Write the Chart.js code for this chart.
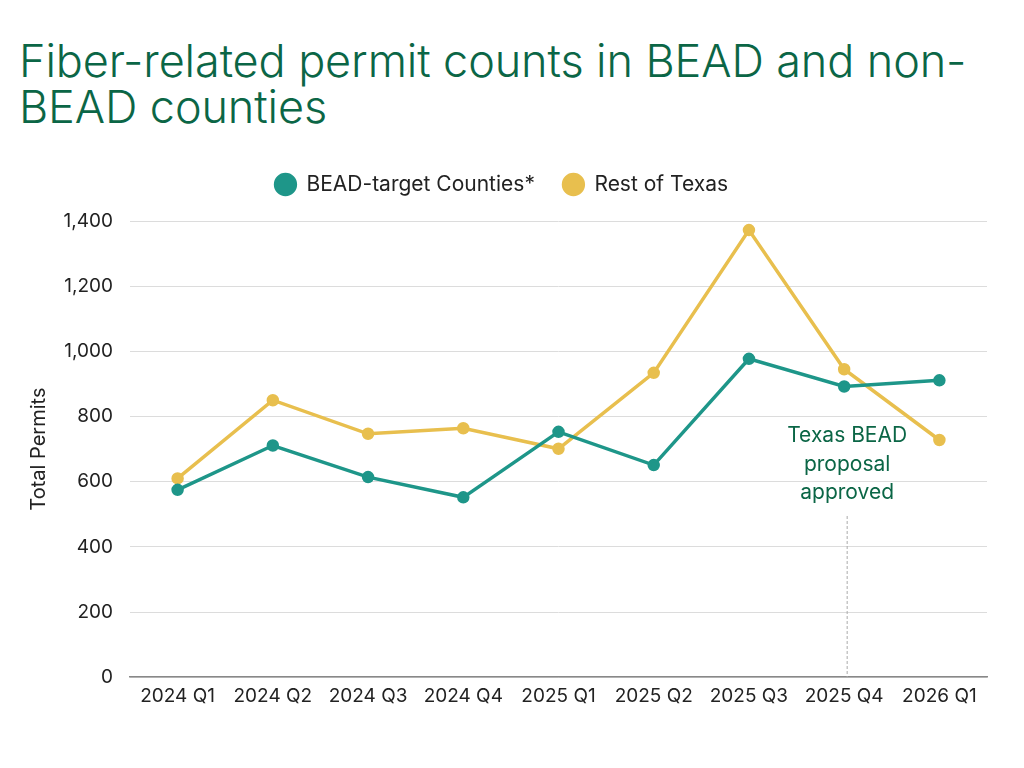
<!DOCTYPE html>
<html>
<head>
<meta charset="utf-8">
<script src="https://cdn.jsdelivr.net/npm/chart.js@4"></script>
<style>
  html, body { margin: 0; padding: 0; background: #fff; }
  #wrap { position: relative; width: 1024px; height: 768px; }
  #title { position: absolute; left: 19px; top: 38px; width: 1000px;
    font-family: Inter, "Noto Sans", sans-serif; font-size: 45px; line-height: 46px;
    color: #0b6646; letter-spacing: -0.1px; font-weight: 300; margin: 0; }
  canvas { position: absolute; left: 0; top: 0; }
</style>
</head>
<body>
<div id="wrap">
  <h1 id="title">Fiber-related permit counts in BEAD and non-<br>BEAD counties</h1>
  <canvas id="c" width="1024" height="768"></canvas>
</div>
<script>
const categories = ["2024 Q1","2024 Q2","2024 Q3","2024 Q4","2025 Q1","2025 Q2","2025 Q3","2025 Q4","2026 Q1"];
const beadTarget = [575, 711, 614, 552, 753, 651, 977, 892, 911];
const restOfTexas = [610, 850, 747, 764, 701, 934, 1372, 945, 728];
const seriesNames = ["BEAD-target Counties*", "Rest of Texas"];
const annotationCategory = "2025 Q4";
const annotationLines = ["Texas BEAD", "proposal", "approved"];

const FONT = "Inter, 'Noto Sans', sans-serif";
const TEAL = "#1e9689";
const GOLD = "#e8bf4e";

const legendSpacing = {
  id: "legendSpacing",
  beforeInit(chart) {
    const origFit = chart.legend.fit;
    chart.legend.fit = function () {
      origFit.bind(chart.legend)();
      this.height += 16;
    };
  }
};

const annotationPlugin = {
  id: "beadAnnotation",
  afterDatasetsDraw(chart) {
    const ctx = chart.ctx;
    const x = chart.scales.x.getPixelForValue(categories.indexOf(annotationCategory)) + 3;
    const yBottom = chart.scales.y.getPixelForValue(0);
    ctx.save();
    ctx.strokeStyle = "#aaaaaa";
    ctx.lineWidth = 1;
    ctx.setLineDash([3, 2]);
    ctx.beginPath();
    ctx.moveTo(x, 516);
    ctx.lineTo(x, yBottom);
    ctx.stroke();
    ctx.setLineDash([]);
    ctx.fillStyle = "#0b6646";
    ctx.font = "21px " + FONT;
    ctx.textAlign = "center";
    ctx.textBaseline = "middle";
    annotationLines.forEach((t, i) => ctx.fillText(t, x, 436 + i * 28.5));
    ctx.restore();
  }
};

new Chart(document.getElementById("c"), {
  type: "line",
  data: {
    labels: categories,
    datasets: [
      { label: seriesNames[0], data: beadTarget, borderColor: TEAL, backgroundColor: TEAL,
        borderWidth: 3.5, pointRadius: 4.5, pointHoverRadius: 5, tension: 0 },
      { label: seriesNames[1], data: restOfTexas, borderColor: GOLD, backgroundColor: GOLD,
        borderWidth: 3.5, pointRadius: 4.5, pointHoverRadius: 5, tension: 0 }
    ]
  },
  options: {
    responsive: false,
    animation: false,
    layout: { padding: { top: 146, right: 37, bottom: 52, left: 16 } },
    plugins: {
      legend: {
        position: "top",
        labels: {
          usePointStyle: true, pointStyle: "circle", boxWidth: 22, boxHeight: 14,
          padding: 28, color: "#222", font: { family: FONT, size: 21 }
        }
      },
      title: { display: false },
      tooltip: { enabled: false }
    },
    scales: {
      x: {
        offset: true,
        grid: { display: false, drawTicks: false },
        border: { display: true, color: "#888", width: 1.5 },
        ticks: { color: "#222", font: { family: FONT, size: 19 }, padding: 8, maxRotation: 0 }
      },
      y: {
        min: 0, max: 1400,
        afterFit(scale) { scale.width = 114; },
        ticks: { stepSize: 200, color: "#222", font: { family: FONT, size: 19 }, padding: 17 },
        grid: { color: "#dcdcdc", lineWidth: 1, drawTicks: false },
        border: { display: false },
        title: { display: true, text: "Total Permits", color: "#222", font: { family: FONT, size: 20 }, padding: { top: 11, bottom: 0 } }
      }
    }
  },
  plugins: [legendSpacing, annotationPlugin]
});
</script>
</body>
</html>
